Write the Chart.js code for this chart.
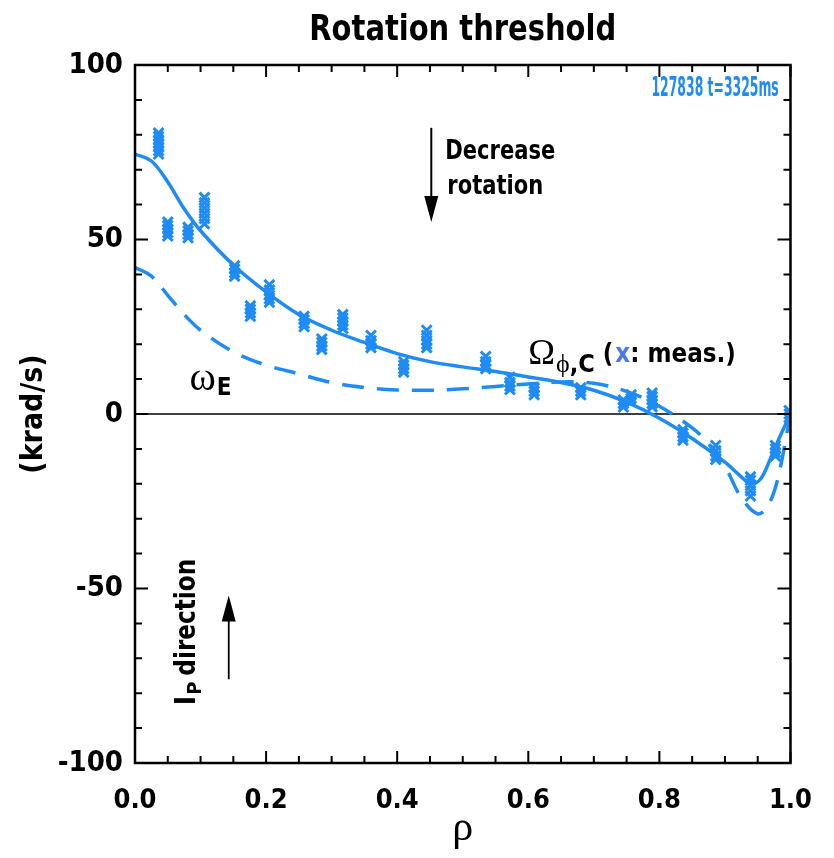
<!DOCTYPE html>
<html>
<head>
<meta charset="utf-8">
<script src="https://cdn.jsdelivr.net/npm/chart.js@4.4.1/dist/chart.umd.min.js"></script>
<style>
  html, body { margin: 0; padding: 0; background: #fff; }
  #wrap { width: 834px; height: 858px; position: relative; }
</style>
</head>
<body>
<div id="wrap"><canvas id="chart"></canvas></div>
<script>
// measured rotation (x markers), one list of values per rho position
const measRho = [0.036, 0.05, 0.081, 0.106, 0.152, 0.176, 0.205, 0.258, 0.285, 0.317, 0.36, 0.41, 0.445, 0.535, 0.572, 0.609, 0.68, 0.745, 0.757, 0.789, 0.836, 0.886, 0.939, 0.977, 0.998];
const measVals = [
    [74.5, 75.5, 76.5, 77.5, 78.5, 79.5, 80.5],
    [51, 52, 53, 54, 55],
    [50.5, 51.5, 52.5, 53.5],
    [54.5, 56, 57.5, 59, 60.5, 62],
    [39.5, 40.5, 41.5, 42.5],
    [28, 29, 30, 31],
    [32, 33, 34, 35.5, 37],
    [25, 26, 27, 28],
    [18.5, 19.5, 20.5, 21.5],
    [24.5, 25.5, 26.5, 27.5, 28.5],
    [19, 20, 21, 22.5],
    [12, 13, 14, 15],
    [19, 20, 21, 22.5, 24],
    [13, 14, 15, 16.5],
    [7, 8, 9, 10.5],
    [5.5, 6.5, 7.5],
    [5.5, 6.5, 7.5],
    [2, 3, 4],
    [3.5, 4.5, 5.5],
    [2, 3, 4, 5, 6],
    [-7.5, -6.5, -5.5, -4.5],
    [-13, -12, -10.5, -9],
    [-23.5, -22, -20.5, -19, -18],
    [-12, -11, -10, -9],
    [-1, 0, 1]
];

// fitted Omega_phi,C (solid)
const fitRho = [0, 0.025, 0.05, 0.075, 0.1, 0.15, 0.2, 0.25, 0.3, 0.35, 0.4, 0.45, 0.5, 0.55, 0.6, 0.65, 0.7, 0.75, 0.8, 0.85, 0.9, 0.925, 0.94, 0.955, 0.97, 0.985, 1.0];
const fitVal = [74.5, 72.5, 66.5, 58.8, 52.5, 42.7, 35, 28.5, 24, 20.5, 17.3, 15, 13.5, 12.2, 10.6, 9, 6.8, 3.4, -1.2, -7, -13.8, -18, -20, -18.5, -12.5, -6, 0];

// omega_E (dashed)
const dashRho = [0, 0.025, 0.05, 0.075, 0.1, 0.15, 0.2, 0.25, 0.3, 0.35, 0.4, 0.45, 0.5, 0.55, 0.6, 0.65, 0.7, 0.75, 0.8, 0.85, 0.875, 0.9, 0.925, 0.95, 0.965, 0.98, 1.0];
const dashVal = [42, 39.5, 34, 28.5, 24, 17.8, 14, 11.5, 9, 7.6, 6.9, 6.8, 7.2, 7.9, 8.6, 9.2, 8.8, 6.5, 2.2, -4, -8.5, -15, -24, -28.6, -26.5, -19, 0];

const xTicks = ['0.0', '0.2', '0.4', '0.6', '0.8', '1.0'];
const yTicks = ['-100', '-50', '0', '50', '100'];

const BLUE = '#1f8cf5';
const NARROW = "'Liberation Sans Narrow', 'DejaVu Sans Condensed', 'Arial Narrow', Arial, sans-serif";
const SERIF = "'Liberation Serif', 'DejaVu Serif', serif";

const measPoints = [];
measRho.forEach((r, i) => {
    measVals[i].forEach(v => measPoints.push({ x: r, y: v }));
});
const fitPoints = fitRho.map((r, i) => ({ x: r, y: fitVal[i] }));
const dashPoints = dashRho.map((r, i) => ({ x: r, y: dashVal[i] }));

// frame, inward ticks on all four sides and the zero line
const framePlugin = {
    id: 'frame',
    beforeDatasetsDraw(chart) {
        const ctx = chart.ctx;
        const a = chart.chartArea;
        const ys = chart.scales.y;
        ctx.save();
        ctx.strokeStyle = '#000';
        ctx.lineWidth = 1.5;
        ctx.beginPath();
        ctx.moveTo(a.left, ys.getPixelForValue(0));
        ctx.lineTo(a.right, ys.getPixelForValue(0));
        ctx.stroke();
        ctx.restore();
    },
    afterDraw(chart) {
        const ctx = chart.ctx;
        const a = chart.chartArea;
        const xs = chart.scales.x, ys = chart.scales.y;
        ctx.save();
        ctx.strokeStyle = '#000';
        ctx.lineWidth = 2;
        for (let i = 0; i <= 20; i++) {
            const px = xs.getPixelForValue(i * 0.05);
            const len = i % 4 === 0 ? 12 : 7;
            ctx.beginPath();
            ctx.moveTo(px, a.bottom); ctx.lineTo(px, a.bottom - len);
            ctx.moveTo(px, a.top); ctx.lineTo(px, a.top + len);
            ctx.stroke();
        }
        for (let v = -100; v <= 100; v += 10) {
            const py = ys.getPixelForValue(v);
            const len = v % 50 === 0 ? 13 : 7;
            ctx.beginPath();
            ctx.moveTo(a.left, py); ctx.lineTo(a.left + len, py);
            ctx.moveTo(a.right, py); ctx.lineTo(a.right - len, py);
            ctx.stroke();
        }
        ctx.lineWidth = 2.5;
        ctx.strokeRect(a.left, a.top, a.right - a.left, a.bottom - a.top);
        ctx.restore();
    }
};

function arrow(ctx, x, y1, y2) {
    // shaft from y1 to y2, head at y2
    const dir = y2 > y1 ? 1 : -1;
    ctx.beginPath();
    ctx.moveTo(x, y1);
    ctx.lineTo(x, y2 - dir * 20);
    ctx.stroke();
    ctx.beginPath();
    ctx.moveTo(x, y2);
    ctx.lineTo(x - 7, y2 - dir * 26);
    ctx.lineTo(x + 7, y2 - dir * 26);
    ctx.closePath();
    ctx.fill();
}

// text squeezed horizontally, returns drawn width
function narrowText(ctx, text, x, y, sx) {
    ctx.save();
    ctx.translate(x, y);
    ctx.scale(sx, 1);
    ctx.fillText(text, 0, 0);
    ctx.restore();
    return ctx.measureText(text).width * sx;
}

// title and the text notes inside the plot
const notesPlugin = {
    id: 'notes',
    afterDraw(chart) {
        const ctx = chart.ctx;
        const a = chart.chartArea;
        const xs = chart.scales.x, ys = chart.scales.y;
        ctx.save();
        ctx.fillStyle = '#000';
        ctx.strokeStyle = '#000';
        ctx.textBaseline = 'middle';

        ctx.font = `bold 35px ${NARROW}`;
        ctx.textAlign = 'center';
        narrowText(ctx, 'Rotation threshold', (a.left + a.right) / 2, 31, 0.92);

        ctx.font = `bold 26px ${NARROW}`;
        ctx.textAlign = 'right';
        ctx.fillStyle = BLUE;
        narrowText(ctx, '127838 t=3325ms', xs.getPixelForValue(0.982), ys.getPixelForValue(93), 0.53);

        // decrease rotation arrow
        ctx.fillStyle = '#000';
        ctx.lineWidth = 2;
        const ax = xs.getPixelForValue(0.452);
        arrow(ctx, ax, ys.getPixelForValue(82), ys.getPixelForValue(55));
        ctx.font = `bold 26px ${NARROW}`;
        ctx.textAlign = 'left';
        narrowText(ctx, 'Decrease', ax + 14, ys.getPixelForValue(75), 0.9);
        ctx.textAlign = 'center';
        narrowText(ctx, 'rotation', ax + 64, ys.getPixelForValue(65), 0.9);

        // Omega_phi,C label
        let x = xs.getPixelForValue(0.6);
        let y = ys.getPixelForValue(17);
        ctx.textAlign = 'left';
        ctx.font = `36px ${SERIF}`;
        ctx.fillText('\u03A9', x, y);
        x += ctx.measureText('\u03A9').width + 1;
        ctx.font = `26px ${SERIF}`;
        ctx.fillText('\u03D5', x, y + 11);
        x += ctx.measureText('\u03D5').width;
        ctx.font = `bold 25px ${NARROW}`;
        ctx.fillText(',C', x, y + 11);
        x += ctx.measureText(',C').width + 8;
        ctx.font = `bold 27px ${NARROW}`;
        x += narrowText(ctx, '(', x, y, 0.95) + 2;
        ctx.fillStyle = '#4a78f0';
        x += narrowText(ctx, 'x', x, y, 0.95);
        ctx.fillStyle = '#000';
        narrowText(ctx, ': meas.)', x, y, 0.95);

        // omega_E label
        x = xs.getPixelForValue(0.083);
        y = ys.getPixelForValue(10);
        ctx.font = `40px ${SERIF}`;
        ctx.fillText('\u03C9', x, y);
        x += ctx.measureText('\u03C9').width + 1;
        ctx.font = `bold 24px ${NARROW}`;
        ctx.fillText('E', x, y + 10);

        // Ip direction, rotated
        ctx.save();
        ctx.translate(xs.getPixelForValue(0.08), ys.getPixelForValue(-80));
        ctx.rotate(-Math.PI / 2);
        ctx.textAlign = 'left';
        ctx.font = `bold 28px ${NARROW}`;
        let tx = -12;
        ctx.fillText('I', tx, 0);
        tx += ctx.measureText('I').width + 1;
        ctx.font = `bold 20px ${NARROW}`;
        ctx.fillText('P', tx, 8);
        tx += ctx.measureText('P').width + 6;
        ctx.font = `bold 28px ${NARROW}`;
        narrowText(ctx, 'direction', tx, 0, 0.92);
        ctx.restore();

        ctx.lineWidth = 1.8;
        arrow(ctx, xs.getPixelForValue(0.143), ys.getPixelForValue(-76), ys.getPixelForValue(-52));
        ctx.restore();
    }
};

new Chart(document.getElementById('chart'), {
    type: 'scatter',
    data: {
        datasets: [
            {
                label: 'meas',
                data: measPoints,
                pointStyle: 'crossRot',
                pointRadius: 7,
                pointBorderWidth: 3,
                borderColor: BLUE,
                backgroundColor: BLUE,
                showLine: false
            },
            {
                label: 'Omega_phi,C',
                data: fitPoints,
                showLine: true,
                borderColor: BLUE,
                borderWidth: 3.5,
                pointRadius: 0,
                tension: 0.35
            },
            {
                label: 'omega_E',
                data: dashPoints,
                showLine: true,
                borderColor: BLUE,
                borderWidth: 3.5,
                borderDash: [22, 13],
                pointRadius: 0,
                tension: 0.35
            }
        ]
    },
    options: {
        responsive: true,
        maintainAspectRatio: false,
        animation: false,
        layout: { padding: { top: 65, right: 37, left: 0, bottom: 0 } },
        plugins: {
            legend: { display: false },
            tooltip: { enabled: false }
        },
        scales: {
            x: {
                type: 'linear',
                min: 0,
                max: 1,
                afterFit: scale => { scale.height = 95; },
                grid: { display: false, drawTicks: false },
                border: { display: false },
                ticks: {
                    stepSize: 0.2,
                    padding: 22,
                    color: '#000',
                    font: { family: NARROW, size: 27, weight: 'bold' },
                    callback: (v) => xTicks[Math.round(v / 0.2)]
                },
                title: {
                    display: true,
                    text: '\u03C1',
                    color: '#000',
                    font: { family: SERIF, size: 42 },
                    padding: { top: 0, bottom: 4 }
                }
            },
            y: {
                min: -100,
                max: 100,
                afterFit: scale => { scale.width = 135; },
                grid: { display: false, drawTicks: false },
                border: { display: false },
                ticks: {
                    stepSize: 50,
                    padding: 12,
                    color: '#000',
                    font: { family: NARROW, size: 29, weight: 'bold' },
                    callback: (v) => yTicks[Math.round((v + 100) / 50)]
                },
                title: {
                    display: true,
                    text: '(krad/s)',
                    color: '#000',
                    font: { family: NARROW, size: 30, weight: 'bold' },
                    padding: { top: 16, bottom: 0 }
                }
            }
        }
    },
    plugins: [framePlugin, notesPlugin]
});
</script>
</body>
</html>
